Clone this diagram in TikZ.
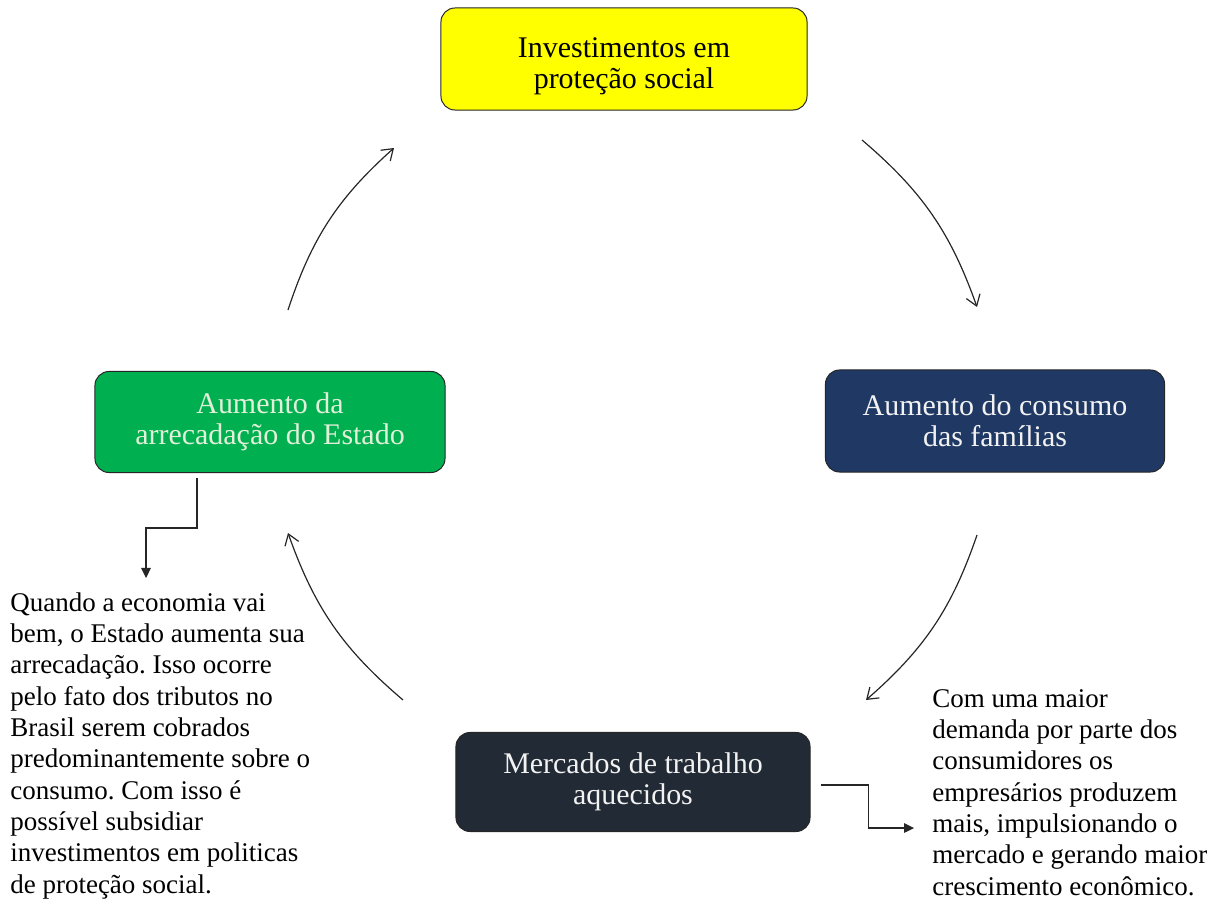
\documentclass[tikz,border=0pt]{standalone}
\usepackage{fontspec}
\setmainfont{Liberation Serif}
\usepackage{xcolor}
\usepackage{tikz}
\usetikzlibrary{arrows.meta, positioning}

\definecolor{amarelo}{HTML}{FFFF00}
\definecolor{verde}{HTML}{00B050}
\definecolor{verdeclaro}{HTML}{E2F0D9}
\definecolor{azulmarinho}{HTML}{1F3864}
\definecolor{grafite}{HTML}{222A35}
\definecolor{quasebranco}{HTML}{F2F2F2}

\begin{document}
\frenchspacing
\begin{tikzpicture}[x=0.025cm, y=0.025cm,
caixa/.style={rectangle, draw=black!85, line width=0.7pt, rounded corners=0.35cm, align=center, inner sep=0pt, font=\fontsize{21.3}{22}\selectfont},
texto/.style={anchor=north west, align=left, inner sep=0pt, font=\fontsize{19.2}{22.3}\selectfont},
ciclo/.style={-{Straight Barb[length=2.6mm, width=3.6mm]}, line width=0.85pt, draw=black!85, bend left=15},
cotovelo/.style={-{Triangle[length=2.5mm, width=2.4mm]}, line width=0.8pt, draw=black!85}
]
	\useasboundingbox (0,0) rectangle (1218,904);
	\node[caixa, fill=amarelo, minimum width=9.15cm, minimum height=2.55cm] (invest) at (624,845) {\rule{0pt}{24.5pt}Investimentos em\\proteção social};
	\node[caixa, fill=azulmarinho, text=quasebranco, minimum width=8.475cm, minimum height=2.55cm] (consumo) at (995,483) {Aumento do consumo\\das famílias};
	\node[caixa, fill=grafite, text=quasebranco, minimum width=8.85cm, minimum height=2.475cm] (mercado) at (633,122) {Mercados de trabalho\\aquecidos};
	\node[caixa, fill=verde, text=verdeclaro, minimum width=8.75cm, minimum height=2.525cm] (arrecad) at (270,482) {Aumento da\\arrecadação do Estado};
	\node[texto] (txtEsq) at (10,312) {Quando a economia vai\\bem, o Estado aumenta sua\\arrecadação. Isso ocorre\\pelo fato dos tributos no\\Brasil serem cobrados\\predominantemente sobre o\\consumo. Com isso é\\possível subsidiar\\investimentos em politicas\\de proteção social.};
	\node[texto] (txtDir) at (932,215) {Com uma maior\\demanda por parte dos\\consumidores os\\empresários produzem\\mais, impulsionando o\\mercado e gerando maior\\crescimento econômico.};
	% pontas dos arcos do ciclo
	\coordinate (a1) at (288,594);
	\coordinate (a2) at (394,756);
	\coordinate (b1) at (862,764);
	\coordinate (b2) at (977,597);
	\coordinate (c1) at (977,369);
	\coordinate (c2) at (866,204);
	\coordinate (d1) at (403,204);
	\coordinate (d2) at (288,371);
	\draw[ciclo] (a1) to (a2);
	\draw[ciclo] (b1) to (b2);
	\draw[ciclo] (c1) to (c2);
	\draw[ciclo] (d1) to (d2);
	% explicacoes
	\draw[cotovelo] ([xshift=-1.825cm, yshift=-0.125cm]arrecad.south) -- ++(0,-50) -| ([xshift=3.4cm, yshift=0.35cm]txtEsq.north west);
	\draw[cotovelo] ([xshift=0.25cm, yshift=-0.075cm]mercado.east) -- ++(48,0) |- ([xshift=-0.45cm, yshift=-3.475cm]txtDir.north west);
\end{tikzpicture}
\end{document}
